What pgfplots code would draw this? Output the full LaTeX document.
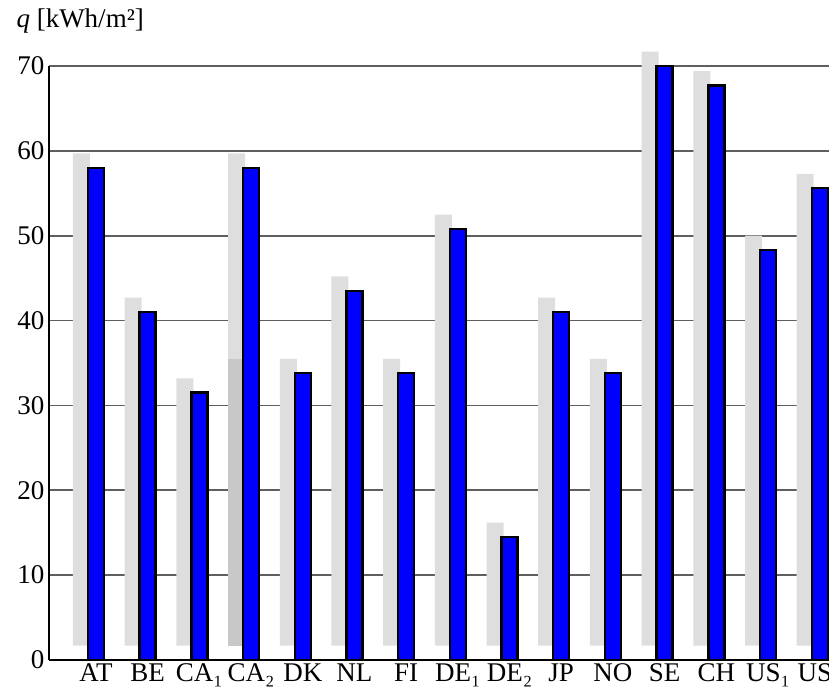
\documentclass[border=0pt]{standalone}
\usepackage{pgfplots}
\pgfplotsset{compat=1.18}
\usepackage{pgfplotstable}
\usepackage{fontspec}
\setmainfont{Liberation Serif}
\definecolor{shadow}{RGB}{222,222,222}
\definecolor{shadowdark}{RGB}{200,200,200}
\definecolor{gridc}{RGB}{95,95,95}
\pgfplotstableread{
x q
0 58
1 41
2 31.5
3 58
4 33.8
5 43.5
6 33.8
7 50.8
8 14.5
9 41
10 33.8
11 70
12 67.7
13 48.3
14 55.6
}\datatable
\begin{document}
\begin{tikzpicture}
\begin{axis}[
  scale only axis,
  width=780bp, height=594bp,
  xmin=-0.909, xmax=14.18,
  ymin=0, ymax=70,
  clip=false,
  axis lines=left,
  axis line style={-, line width=2bp, black},
  xtick={0,...,14},
  xticklabels={AT,BE,CA₁,CA₂,DK,NL,FI,DE₁,DE₂,JP,NO,SE,CH,US₁,US₂},
  ytick={0,10,...,70},
  major tick length=0pt,
  ymajorgrids,
  grid style={gridc, line width=1.6bp},
  /pgf/number format/assume math mode=true,
  tick label style={font=\fontsize{27bp}{32bp}\selectfont},
  yticklabel style={xshift=-1bp},
  xticklabel style={yshift=-0.5bp},
]
\addplot[ybar, bar width=17bp, bar shift=-14.5bp, fill=shadow, draw=none, yshift=14.4bp] table[x=x,y=q]{\datatable};
\addplot[ybar, bar width=17bp, bar shift=-14.5bp, fill=shadowdark, draw=none, yshift=14.4bp] coordinates {(3,33.8)};
\addplot[ybar, bar width=16bp, bar shift=0bp, fill=blue, draw=black, line width=2.4bp] table[x=x,y=q]{\datatable};
\end{axis}
\node[anchor=base west, font=\fontsize{27bp}{32bp}\selectfont] at ([xshift=-36bp, yshift=38bp]current axis.north west) {\textit{q} [kWh/m²]};
\pgfresetboundingbox
\path[use as bounding box] ([xshift=-49bp, yshift=-37bp]current axis.south west) rectangle ([yshift=66bp]current axis.north east);
\end{tikzpicture}
\end{document}
